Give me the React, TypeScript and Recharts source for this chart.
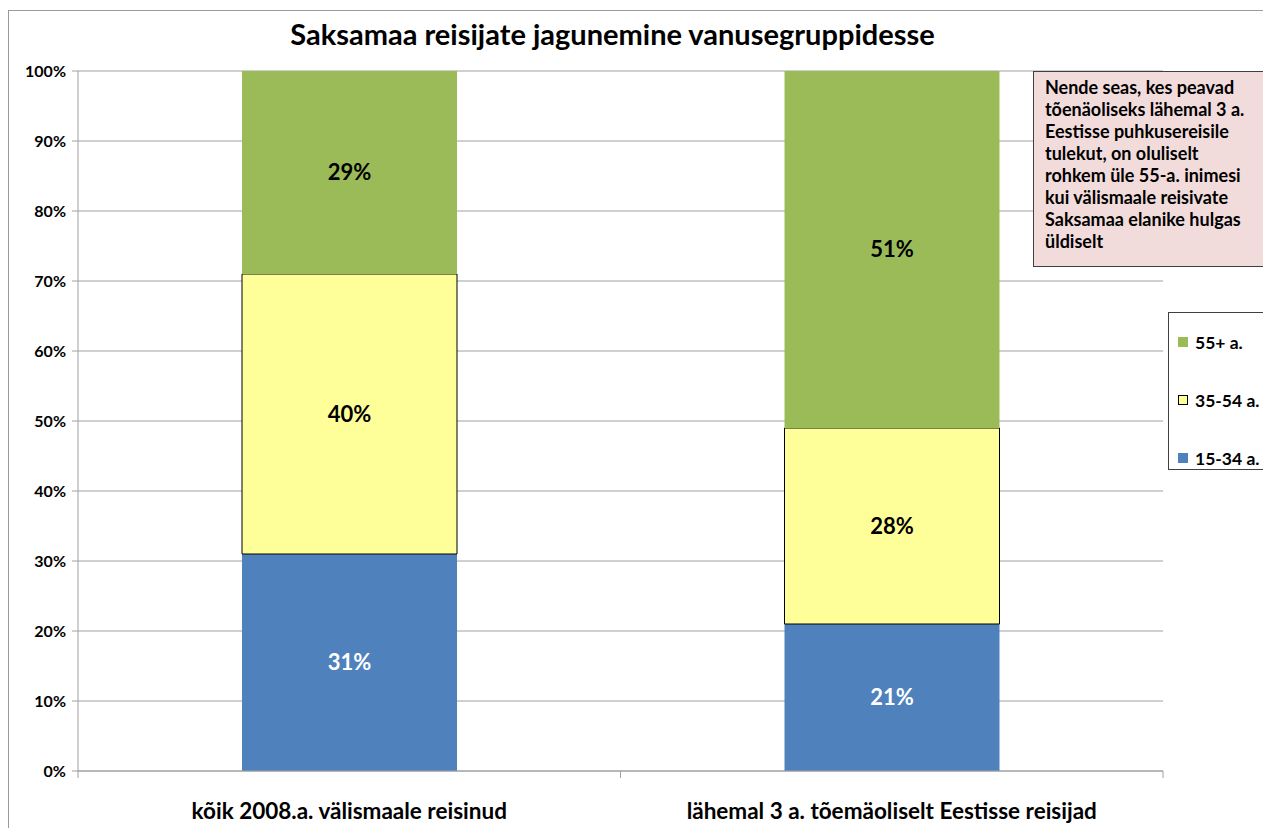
import { ComposedChart, Bar, XAxis, YAxis, CartesianGrid, LabelList } from 'recharts';

const categories = ['kõik 2008.a. välismaale reisinud', 'lähemal 3 a. tõemäoliselt Eestisse reisijad'];
const young = [31, 21];
const middle = [40, 28];
const senior = [29, 51];
const yTicks = [0, 10, 20, 30, 40, 50, 60, 70, 80, 90, 100];

const SERIES = [
  { key: 'young', name: '15-34 a.', color: '#4F81BD', stroke: 'none', labelColor: '#FFFFFF' },
  { key: 'middle', name: '35-54 a.', color: '#FFFF99', stroke: '#000000', labelColor: '#000000' },
  { key: 'senior', name: '55+ a.', color: '#9BBB59', stroke: 'none', labelColor: '#000000' },
];

const FONT = 'Lato, "Open Sans", sans-serif';

const data = categories.map((name, i) => ({
  name,
  young: young[i],
  middle: middle[i],
  senior: senior[i],
}));

function CategoryTick(props: any) {
  const { x, y, payload } = props;
  const half = payload?.offset ?? 0;
  return (
    <g>
      <line x1={x - half} y1={y - 8} x2={x - half} y2={y - 1} stroke="#A0A0A0" />
      <line x1={x + half} y1={y - 8} x2={x + half} y2={y - 1} stroke="#A0A0A0" />
      <text x={x} y={y + 40} textAnchor="middle" fontSize={22.5} fontWeight={700} fill="#000" fontFamily={FONT}>
        {payload.value}
      </text>
    </g>
  );
}

function LegendBox() {
  const items = [...SERIES].reverse();
  return (
    <div
      style={{
        position: 'absolute',
        left: 1168,
        top: 312,
        width: 110,
        height: 158,
        border: '1px solid #404040',
        background: '#fff',
        boxSizing: 'border-box',
      }}
    >
      {items.map((s) => (
        <div key={s.key} style={{ display: 'flex', alignItems: 'center', height: 58, paddingLeft: 9 }}>
          <span
            style={{
              width: 10,
              height: 10,
              background: s.color,
              border: s.stroke !== 'none' ? '1px solid #000' : 'none',
              boxSizing: 'border-box',
              marginRight: 7,
            }}
          />
          <span style={{ fontSize: 17.5, fontWeight: 700, color: '#000' }}>{s.name}</span>
        </div>
      ))}
    </div>
  );
}

export default function App() {
  return (
    <div
      style={{
        position: 'absolute',
        left: 0,
        top: 0,
        width: 1263,
        height: 828,
        overflow: 'hidden',
        background: '#fff',
        fontFamily: FONT,
      }}
    >
      <div
        style={{
          position: 'absolute',
          left: 8,
          top: 10,
          width: 1300,
          height: 900,
          border: '1px solid #9A9A9A',
        }}
      />
      <div
        style={{
          position: 'absolute',
          left: 0,
          top: 16,
          width: 1225,
          textAlign: 'center',
          fontSize: 29,
          fontWeight: 700,
          color: '#000',
        }}
      >
        Saksamaa reisijate jagunemine vanusegruppidesse
      </div>
      <div style={{ position: 'absolute', left: 0, top: 0 }}>
        <ComposedChart width={1263} height={828} data={data} margin={{ top: 71, right: 100, bottom: 0, left: 8 }}>
          <CartesianGrid vertical={false} stroke="#A0A0A0" />
          <XAxis
            dataKey="name"
            axisLine={{ stroke: '#A0A0A0' }}
            tickLine={false}
            tick={<CategoryTick />}
            interval={0}
            height={57}
          />
          <YAxis
            domain={[0, 100]}
            ticks={yTicks}
            tickFormatter={(v) => `${v}%`}
            width={70}
            axisLine={{ stroke: '#A0A0A0' }}
            tickLine={{ stroke: '#A0A0A0' }}
            tickSize={6}
            tickMargin={6}
            tick={{ fontSize: 16, fontWeight: 700, fill: '#000', fontFamily: FONT }}
          />
          <YAxis yAxisId="right" orientation="right" width={0} domain={[0, 100]} tick={false} axisLine={{ stroke: '#555' }} />
          {SERIES.map((s) => (
            <Bar
              key={s.key}
              dataKey={s.key}
              name={s.name}
              stackId="a"
              fill={s.color}
              stroke={s.stroke}
              strokeWidth={1}
              barSize={215}
              isAnimationActive={false}
            >
              <LabelList
                dataKey={s.key}
                position="center"
                formatter={(v: any) => `${v}%`}
                fill={s.labelColor}
                fontSize={22}
                fontWeight={700}
                fontFamily={FONT}
              />
            </Bar>
          ))}
        </ComposedChart>
      </div>
      <LegendBox />
      <div
        style={{
          position: 'absolute',
          left: 1033,
          top: 71,
          width: 240,
          height: 196,
          background: '#F2DCDB',
          border: '1px solid #404040',
          boxSizing: 'border-box',
          padding: '4px 0 0 11px',
          fontSize: 18,
          fontWeight: 700,
          lineHeight: '22px',
          color: '#000',
          whiteSpace: 'nowrap',
        }}
      >
        Nende seas, kes peavad
        <br />
        tõenäoliseks lähemal 3 a.
        <br />
        Eestisse puhkusereisile
        <br />
        tulekut, on oluliselt
        <br />
        rohkem üle 55-a. inimesi
        <br />
        kui välismaale reisivate
        <br />
        Saksamaa elanike hulgas
        <br />
        üldiselt
      </div>
    </div>
  );
}
